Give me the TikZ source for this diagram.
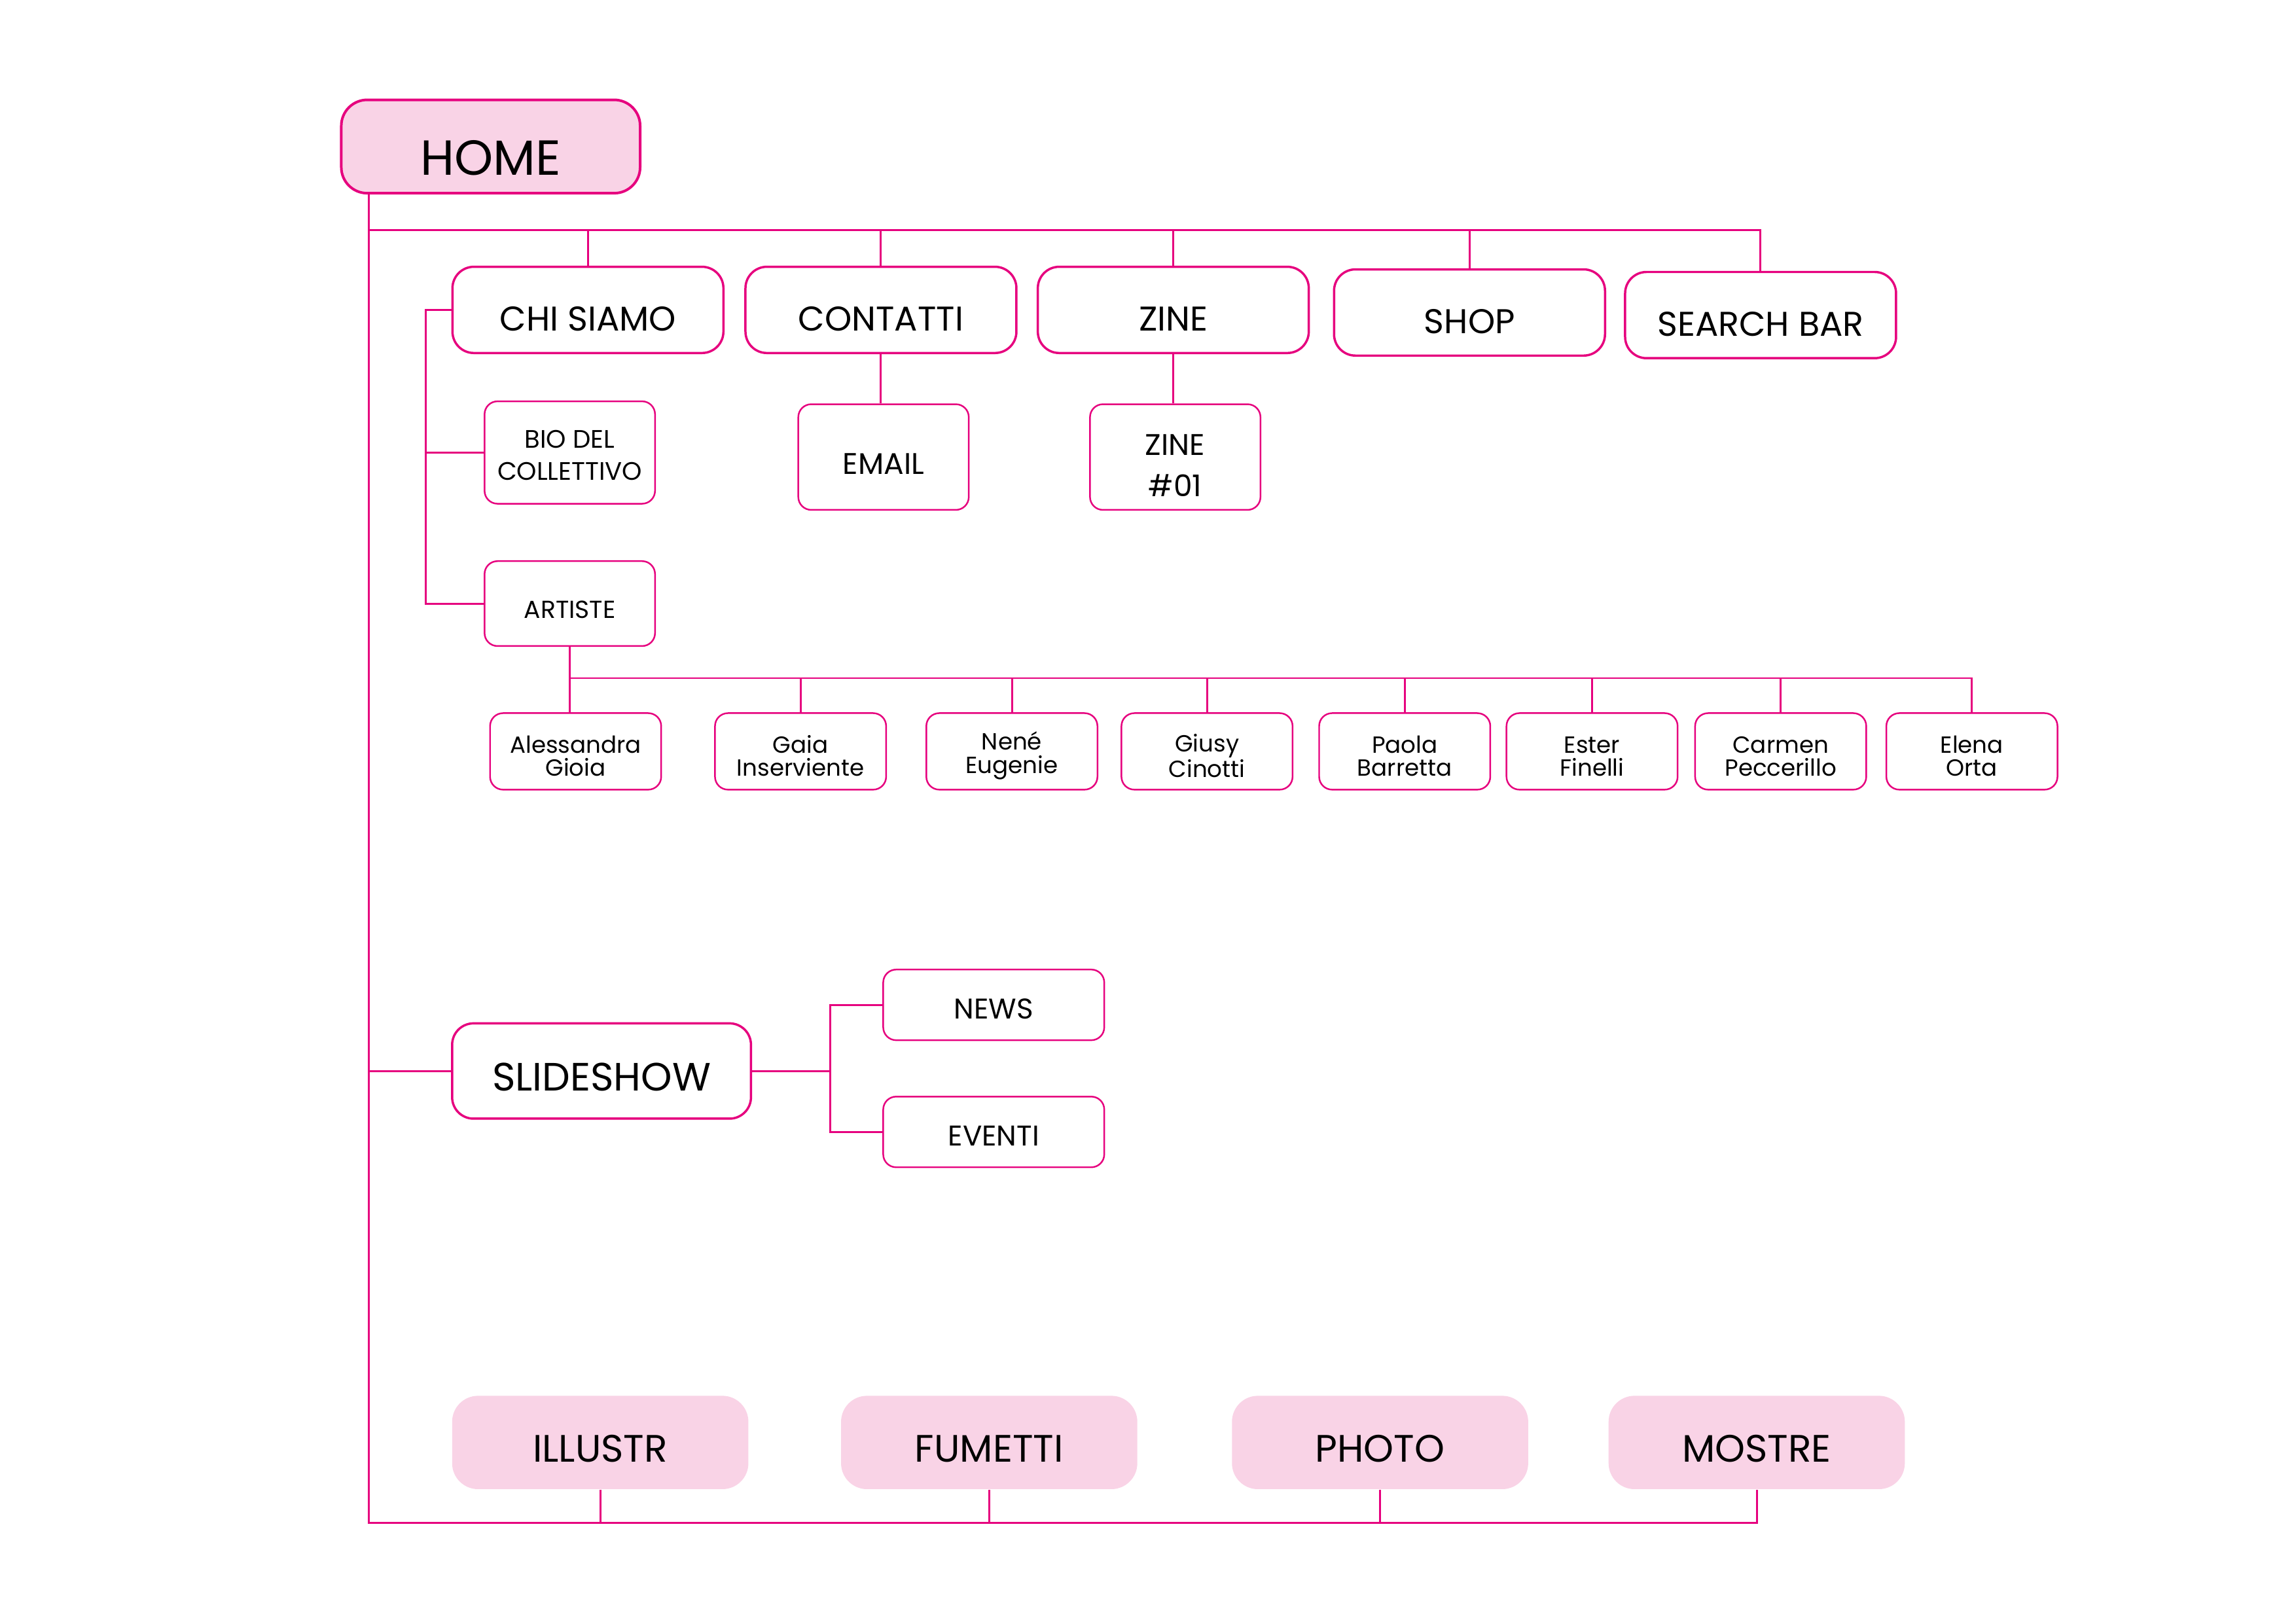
\documentclass[tikz,border=0pt]{standalone}
\usepackage{fontspec}
\setmainfont{Poppins}
\definecolor{mag}{HTML}{E6007E}
\definecolor{pinkfill}{HTML}{F9D3E6}
\newcommand\namestrut{\rule{0pt}{4.1mm}}
\newcommand\biostrut{\rule{0pt}{3.6mm}}
\newcommand\zinestrut{\rule{0pt}{5.8mm}}
\begin{document}
\begin{tikzpicture}[x=0.1mm,y=-0.1mm,
  conn/.style={draw=mag,line width=0.3mm},
  homebox/.style={draw=mag,fill=pinkfill,line width=0.4mm,rounded corners=4mm,minimum width=46.1mm,minimum height=14.4mm,inner sep=0pt,font=\fontsize{7.6mm}{8mm}\selectfont,text height=8.8mm,text depth=0pt},
  topbox/.style={draw=mag,fill=white,line width=0.35mm,rounded corners=3.3mm,minimum width=41.8mm,minimum height=13.3mm,inner sep=0pt,font=\fontsize{5.3mm}{6mm}\selectfont,text height=6.5mm,text depth=0pt},
  slidebox/.style={topbox,minimum width=46.1mm,minimum height=14.7mm,font=\fontsize{6.1mm}{6.5mm}\selectfont,text height=6.2mm},
  subbox/.style={draw=mag,fill=white,line width=0.25mm,rounded corners=2mm,inner sep=0pt,align=center,minimum width=26.3mm},
  biobox/.style={subbox,minimum height=15.8mm,font=\fontsize{3.9mm}{5mm}\selectfont},
  artbox/.style={subbox,minimum height=13.1mm,font=\fontsize{3.8mm}{4.5mm}\selectfont,text height=4.5mm,text depth=0pt},
  leafbox/.style={subbox,minimum height=16.3mm,font=\fontsize{4.6mm}{6.3mm}\selectfont},
  emailbox/.style={leafbox,text height=5.4mm,text depth=0pt},
  namebox/.style={subbox,minimum width=26.4mm,minimum height=11.8mm,font=\fontsize{3.6mm}{3.6mm}\selectfont},
  newsbox/.style={subbox,minimum width=34.1mm,minimum height=10.9mm,font=\fontsize{4.4mm}{5mm}\selectfont,text height=4.3mm,text depth=0pt},
  catbox/.style={fill=pinkfill,rounded corners=4mm,minimum width=45.7mm,minimum height=14.4mm,inner sep=0pt,font=\fontsize{5.9mm}{6.5mm}\selectfont,text height=6.1mm,text depth=0pt}
]
\useasboundingbox (0,0) rectangle (3542,2505);
% nodes
\node[homebox] (HOME) at (757,226) {HOME};
\node[topbox] (CHI) at (907,478) {CHI SIAMO};
\node[topbox] (CONT) at (1359,478) {CONTATTI};
\node[topbox] (ZINE) at (1810,478) {ZINE};
\node[topbox] (SHOP) at (2267,482) {SHOP};
\node[topbox] (SEARCH) at (2716,486) {SEARCH BAR};
\node[biobox] (BIO) at (879,698) {\biostrut BIO DEL\\COLLETTIVO};
\node[emailbox] (EMAIL) at (1363,705) {EMAIL};
\node[leafbox] (ZINE1) at (1813,705) {\zinestrut ZINE\\\#01};
\node[artbox] (ARTISTE) at (879,931) {ARTISTE};
\node[namebox] (AR1) at (888,1159) {\namestrut Alessandra\\Gioia};
\node[namebox] (AR2) at (1235,1159) {\namestrut Gaia\\Inserviente};
\node[namebox] (AR3) at (1561,1159) {\namestrut Nené\\Eugenie};
\node[namebox] (AR4) at (1862,1159) {\namestrut Giusy\\Cinotti};
\node[namebox] (AR5) at (2167,1159) {\namestrut Paola\\Barretta};
\node[namebox] (AR6) at (2456,1159) {\namestrut Ester\\Finelli};
\node[namebox] (AR7) at (2747,1159) {\namestrut Carmen\\Peccerillo};
\node[namebox] (AR8) at (3042,1159) {\namestrut Elena\\Orta};
\node[slidebox] (SLIDE) at (928,1652) {SLIDESHOW};
\node[newsbox] (NEWS) at (1533,1550) {NEWS};
\node[newsbox] (EVENTI) at (1533,1746) {EVENTI};
\node[catbox] (ILL) at (926,2225) {ILLUSTR};
\node[catbox] (FUM) at (1526,2225) {FUMETTI};
\node[catbox] (PHO) at (2129,2225) {PHOTO};
\node[catbox] (MOS) at (2710,2225) {MOSTRE};
% junction coordinates
\coordinate (tx) at (569,0);
\coordinate (topbus) at (0,355);
\coordinate (bot) at (0,2349);
\coordinate (cx) at (657,0);
\coordinate (abus) at (0,1046);
\coordinate (sx) at (1281,0);
% connectors
\draw[conn] (HOME.south -| tx) -- (tx |- bot) -- (MOS.south |- bot) -- (MOS.south);
\draw[conn] (tx |- topbus) -- (SEARCH.north |- topbus) -- (SEARCH.north);
\foreach \n in {CHI,CONT,ZINE,SHOP} \draw[conn] (\n.north) -- (\n.north |- topbus);
\draw[conn] (CHI.west) -- (CHI.west -| cx) -- (cx |- ARTISTE.west) -- (ARTISTE.west);
\draw[conn] (cx |- BIO.west) -- (BIO.west);
\draw[conn] (CONT.south) -- (CONT.south |- EMAIL.north);
\draw[conn] (ZINE.south) -- (ZINE.south |- ZINE1.north);
\draw[conn] (ARTISTE.south) -- (ARTISTE.south |- AR1.north);
\draw[conn] (ARTISTE.south |- abus) -- (AR8.north |- abus) -- (AR8.north);
\foreach \n in {AR2,AR3,AR4,AR5,AR6,AR7} \draw[conn] (\n.north) -- (\n.north |- abus);
\draw[conn] (tx |- SLIDE.west) -- (SLIDE.west);
\draw[conn] (SLIDE.east) -- (SLIDE.east -| sx);
\draw[conn] (NEWS.west) -- (NEWS.west -| sx) -- (sx |- EVENTI.west) -- (EVENTI.west);
\foreach \n in {ILL,FUM,PHO} \draw[conn] (\n.south) -- (\n.south |- bot);
\end{tikzpicture}
\end{document}
